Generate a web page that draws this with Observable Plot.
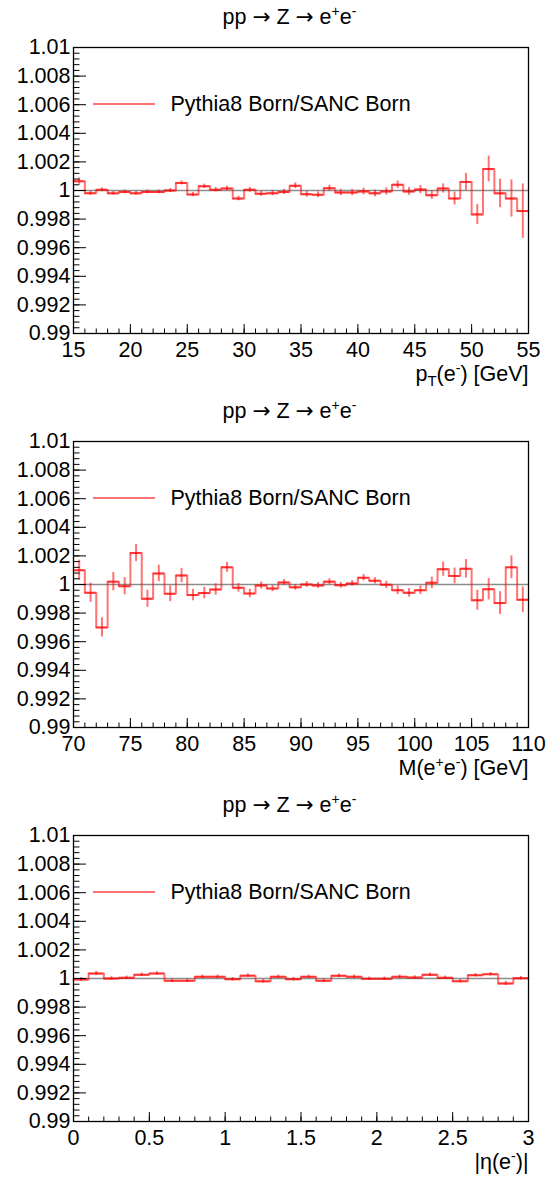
<!DOCTYPE html>
<html><head><meta charset="utf-8">
<script src="https://cdn.jsdelivr.net/npm/d3@7"></script>
<script src="https://cdn.jsdelivr.net/npm/@observablehq/plot@0.6"></script>
<style>body{margin:0;background:#fff}svg{display:block}</style>
</head><body><div id="c"></div>
<script>
// ---- data ----
const yTicks = [0.99, 0.992, 0.994, 0.996, 0.998, 1, 1.002, 1.004, 1.006, 1.008, 1.01];
const ptTicks = [15, 20, 25, 30, 35, 40, 45, 50, 55];
const massTicks = [70, 75, 80, 85, 90, 95, 100, 105, 110];
const etaTicks = [0, 0.5, 1, 1.5, 2, 2.5, 3];

const ptRatio = [1.00065, 0.99981, 1.00005, 0.9998, 0.9999, 0.9998, 0.9999, 0.9999, 1.0000, 1.00053,
  0.99972, 1.0003, 1.00005, 1.00014, 0.99944, 1.00005, 0.99977, 0.99981, 0.9999, 1.00033,
  0.99974, 0.9997, 1.00016, 0.99986, 0.99986, 0.99993, 0.9998, 0.99993, 1.0004, 0.99993,
  1.00007, 0.99967, 1.00014, 0.99944, 1.0006, 0.99833, 1.0015, 0.9998, 0.99944, 0.99856];
const ptErr = [0.00022, 0.00015, 0.00013, 0.00013, 0.00013, 0.00013, 0.00013, 0.00013, 0.00014, 0.00014,
  0.00015, 0.00015, 0.00015, 0.00016, 0.00016, 0.00017, 0.00017, 0.00018, 0.00018, 0.0002,
  0.0002, 0.0002, 0.00021, 0.00022, 0.00022, 0.00023, 0.00024, 0.00025, 0.00026, 0.00027,
  0.00028, 0.0003, 0.00032, 0.00045, 0.0006, 0.0007, 0.0009, 0.001, 0.0013, 0.0019];

const massRatio = [1.001, 0.99942, 0.997, 1.0002, 0.99988, 1.0022, 0.999, 1.00077, 0.99935, 1.00063,
  0.99926, 0.9994, 0.99965, 1.0012, 0.99977, 0.99937, 0.99993, 0.99972, 1.00014, 0.9998,
  1.0, 0.99993, 1.0002, 0.99995, 1.00007, 1.00047, 1.00026, 0.99998, 0.9996, 0.99942,
  0.9996, 1.00012, 1.00107, 1.0006, 1.0011, 0.9989, 0.99967, 0.9987, 1.0012, 0.99893];
const massErr = [0.0007, 0.00067, 0.00067, 0.00064, 0.0006, 0.0006, 0.0006, 0.00058, 0.00055, 0.0005,
  0.0004, 0.0004, 0.0004, 0.00035, 0.0003, 0.0003, 0.00025, 0.00022, 0.0002, 0.0002,
  0.0002, 0.0002, 0.0002, 0.0002, 0.0002, 0.00022, 0.00022, 0.00025, 0.0003, 0.0003,
  0.0003, 0.0004, 0.0005, 0.00055, 0.00065, 0.0007, 0.00075, 0.0008, 0.0008, 0.0009];

const etaRatio = [0.99993, 1.00035, 1.0, 1.00005, 1.00026, 1.00035, 0.99984, 0.99984, 1.00012, 1.00012,
  0.99995, 1.0002, 0.9998, 1.00012, 0.99995, 1.00012, 0.99984, 1.00019, 1.00012, 0.99998,
  0.99998, 1.00012, 1.00007, 1.00026, 1.00005, 0.99981, 1.00023, 1.0003, 0.99965, 1.00002];
const etaErr = [0.00012, 0.00015, 0.00012, 0.00012, 0.00012, 0.00012, 0.00012, 0.00012, 0.00012, 0.00012,
  0.00012, 0.00012, 0.00012, 0.00012, 0.00012, 0.00012, 0.00012, 0.00012, 0.00012, 0.00012,
  0.00012, 0.00012, 0.00012, 0.00012, 0.00012, 0.00012, 0.00012, 0.00012, 0.00014, 0.00012];

const legendText = "Pythia8 Born/SANC Born";
const ARROW = '<tspan font-family="DejaVu Sans">→</tspan>';
const titleHTML = 'pp ' + ARROW + ' Z ' + ARROW + ' e<tspan dy="-8" font-size="14">+</tspan><tspan dy="8">e</tspan><tspan dy="-8" font-size="14">-</tspan>';
const ptLabelHTML = 'p<tspan dy="5" font-size="15">T</tspan><tspan dy="-5">(e</tspan><tspan dy="-8" font-size="14">-</tspan><tspan dy="8">) [GeV]</tspan>';
const massLabelHTML = 'M(e<tspan dy="-8" font-size="14">+</tspan><tspan dy="8">e</tspan><tspan dy="-8" font-size="14">-</tspan><tspan dy="8">) [GeV]</tspan>';
const etaLabelHTML = '|η(e<tspan dy="-8" font-size="14">-</tspan><tspan dy="8">)|</tspan>';

// ---- layout ----
const W = 550, ML = 73, MR = 22, MT = 47, FH = 286;
const FW = W - ML - MR;
const RED = "#ff0000", OP = 0.55;
const FONT = "'Liberation Sans', Arial, Helvetica, sans-serif";
const FS = 21.5;

function panel({domain, binW, ratio, err, ticks, minorStep, xlabelHTML, height}) {
  const bins = ratio.map((v, i) => ({lo: domain[0] + i * binW, hi: domain[0] + (i + 1) * binW, v, e: err[i]}));
  const steps = bins.flatMap(b => [{x: b.lo, y: b.v}, {x: b.hi, y: b.v}]);
  const nMinor = Math.round((domain[1] - domain[0]) / minorStep);
  const xMinor = d3.range(nMinor + 1).map(i => domain[0] + i * minorStep);
  const yMinor = d3.range(51).map(i => 0.99 + i * 0.0004);
  const svg = Plot.plot({
    width: W, height,
    marginLeft: ML, marginRight: MR, marginTop: MT, marginBottom: height - MT - FH,
    style: {fontFamily: FONT, fontSize: FS + "px", color: "black", background: "white"},
    x: {domain},
    y: {domain: [0.99, 1.01]},
    marks: [
      Plot.ruleY([1], {stroke: "#8c8c8c", strokeWidth: 1.5}),
      Plot.line(steps, {x: "x", y: "y", stroke: RED, strokeOpacity: OP, strokeWidth: 2}),
      Plot.ruleY(bins, {x1: "lo", x2: "hi", y: "v", stroke: RED, strokeOpacity: OP, strokeWidth: 2}),
      Plot.ruleX(bins, {x: d => (d.lo + d.hi) / 2, y1: d => d.v - d.e, y2: d => d.v + d.e, stroke: RED, strokeOpacity: OP, strokeWidth: 2}),
      Plot.tickY(yMinor, {y: d => d, insetRight: FW - 6.5, stroke: "black", strokeWidth: 1}),
      Plot.tickY(yTicks, {y: d => d, insetRight: FW - 13, stroke: "black", strokeWidth: 1}),
      Plot.tickX(xMinor, {x: d => d, insetTop: FH - 4.5, stroke: "black", strokeWidth: 1}),
      Plot.tickX(ticks, {x: d => d, insetTop: FH - 9, stroke: "black", strokeWidth: 1}),
      Plot.frame({stroke: "black", strokeWidth: 1.3}),
      Plot.axisY({ticks: yTicks, tickSize: 0, tickPadding: 3, label: null, fontSize: FS,
        tickFormat: d => String(+d.toFixed(3))}),
      Plot.axisX({ticks, tickSize: 0, tickPadding: 8, label: null, fontSize: FS,
        tickFormat: d => String(+d.toFixed(1))}),
      Plot.text(["@TITLE@"], {frameAnchor: "top-left", lineAnchor: "middle", dx: 216, dy: -30, textAnchor: "middle", fontSize: FS}),
      Plot.text([legendText], {frameAnchor: "top-left", lineAnchor: "middle", dx: 97, dy: 57, textAnchor: "start", fontSize: FS}),
      Plot.text(["@XLABEL@"], {frameAnchor: "bottom-right", lineAnchor: "middle", dy: 41, textAnchor: "end", fontSize: FS})
    ]
  });
  svg.querySelectorAll("text").forEach(t => {
    if (t.textContent === "@TITLE@") t.innerHTML = titleHTML;
    else if (t.textContent === "@XLABEL@") t.innerHTML = xlabelHTML;
  });
  d3.select(svg).selectAll('g[aria-label^="y-axis"], g[aria-label^="x-axis"]').attr("font-size", FS);
  // legend swatch
  d3.select(svg).append("line")
    .attr("x1", ML + 20).attr("x2", ML + 82)
    .attr("y1", MT + 57).attr("y2", MT + 57)
    .attr("stroke", RED).attr("stroke-opacity", OP).attr("stroke-width", 2);
  return svg;
}

const c = document.getElementById("c");
c.append(panel({domain: [15, 55], binW: 1, ratio: ptRatio, err: ptErr, ticks: ptTicks, minorStep: 1, xlabelHTML: ptLabelHTML, height: 394}));
c.append(panel({domain: [70, 110], binW: 1, ratio: massRatio, err: massErr, ticks: massTicks, minorStep: 1, xlabelHTML: massLabelHTML, height: 394}));
c.append(panel({domain: [0, 3], binW: 0.1, ratio: etaRatio, err: etaErr, ticks: etaTicks, minorStep: 0.1, xlabelHTML: etaLabelHTML, height: 390}));
</script>
</body></html>
